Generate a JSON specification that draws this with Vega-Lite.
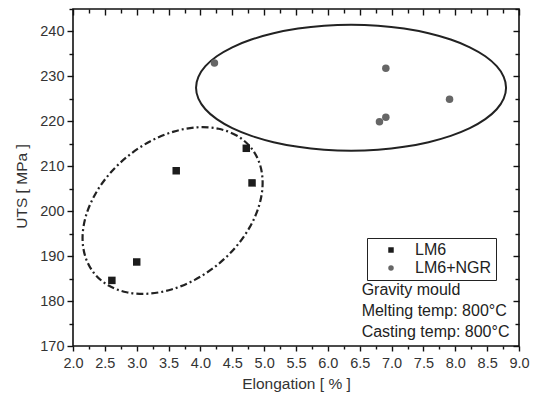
{
  "$schema": "https://vega.github.io/schema/vega-lite/v6.json",
  "width": 446,
  "height": 337,
  "autosize": {"type": "none"},
  "padding": {"left": 73, "top": 9, "right": 15, "bottom": 49},
  "background": "white",
  "config": {
    "view": {"stroke": "#111", "strokeWidth": 1.6},
    "font": "Liberation Sans",
    "axis": {"grid": false, "domain": false, "tickColor": "#111", "tickWidth": 1.4, "labelFont": "Liberation Sans", "titleFont": "Liberation Sans", "labelColor": "#333", "titleColor": "#333", "titleFontWeight": "normal", "labelFlush": false, "labelOverlap": false, "labelBound": false}
  },
  "datasets": {
    "pts": [
      {"elong": 2.61, "uts": 184.6, "series": "LM6"},
      {"elong": 3.0, "uts": 188.7, "series": "LM6"},
      {"elong": 3.62, "uts": 209.0, "series": "LM6"},
      {"elong": 4.72, "uts": 214.0, "series": "LM6"},
      {"elong": 4.81, "uts": 206.3, "series": "LM6"},
      {"elong": 4.22, "uts": 233.0, "series": "LM6+NGR"},
      {"elong": 6.91, "uts": 231.8, "series": "LM6+NGR"},
      {"elong": 7.91, "uts": 224.9, "series": "LM6+NGR"},
      {"elong": 6.91, "uts": 220.9, "series": "LM6+NGR"},
      {"elong": 6.81, "uts": 219.9, "series": "LM6+NGR"}
    ],
    "solid": [
      {"i": 0, "elong": 8.797, "uts": 227.48},
      {"i": 1, "elong": 8.76, "uts": 229.91},
      {"i": 2, "elong": 8.65, "uts": 232.27},
      {"i": 3, "elong": 8.471, "uts": 234.48},
      {"i": 4, "elong": 8.228, "uts": 236.48},
      {"i": 5, "elong": 7.928, "uts": 238.2},
      {"i": 6, "elong": 7.581, "uts": 239.6},
      {"i": 7, "elong": 7.196, "uts": 240.64},
      {"i": 8, "elong": 6.786, "uts": 241.27},
      {"i": 9, "elong": 6.364, "uts": 241.48},
      {"i": 10, "elong": 5.942, "uts": 241.27},
      {"i": 11, "elong": 5.532, "uts": 240.64},
      {"i": 12, "elong": 5.147, "uts": 239.6},
      {"i": 13, "elong": 4.8, "uts": 238.2},
      {"i": 14, "elong": 4.5, "uts": 236.48},
      {"i": 15, "elong": 4.257, "uts": 234.48},
      {"i": 16, "elong": 4.078, "uts": 232.27},
      {"i": 17, "elong": 3.968, "uts": 229.91},
      {"i": 18, "elong": 3.931, "uts": 227.48},
      {"i": 19, "elong": 3.968, "uts": 225.05},
      {"i": 20, "elong": 4.078, "uts": 222.69},
      {"i": 21, "elong": 4.257, "uts": 220.48},
      {"i": 22, "elong": 4.5, "uts": 218.48},
      {"i": 23, "elong": 4.8, "uts": 216.76},
      {"i": 24, "elong": 5.147, "uts": 215.36},
      {"i": 25, "elong": 5.532, "uts": 214.32},
      {"i": 26, "elong": 5.942, "uts": 213.69},
      {"i": 27, "elong": 6.364, "uts": 213.48},
      {"i": 28, "elong": 6.786, "uts": 213.69},
      {"i": 29, "elong": 7.196, "uts": 214.32},
      {"i": 30, "elong": 7.581, "uts": 215.36},
      {"i": 31, "elong": 7.928, "uts": 216.76},
      {"i": 32, "elong": 8.228, "uts": 218.48},
      {"i": 33, "elong": 8.471, "uts": 220.48},
      {"i": 34, "elong": 8.65, "uts": 222.69},
      {"i": 35, "elong": 8.76, "uts": 225.05}
    ],
    "dashdot": [
      {"i": 0, "elong": 4.796, "uts": 214.08},
      {"i": 1, "elong": 4.575, "uts": 216.78},
      {"i": 2, "elong": 4.285, "uts": 218.34},
      {"i": 3, "elong": 3.947, "uts": 218.66},
      {"i": 4, "elong": 3.582, "uts": 217.72},
      {"i": 5, "elong": 3.215, "uts": 215.58},
      {"i": 6, "elong": 2.873, "uts": 212.39},
      {"i": 7, "elong": 2.577, "uts": 208.37},
      {"i": 8, "elong": 2.349, "uts": 203.79},
      {"i": 9, "elong": 2.203, "uts": 198.96},
      {"i": 10, "elong": 2.15, "uts": 194.21},
      {"i": 11, "elong": 2.194, "uts": 189.86},
      {"i": 12, "elong": 2.33, "uts": 186.22},
      {"i": 13, "elong": 2.551, "uts": 183.52},
      {"i": 14, "elong": 2.841, "uts": 181.96},
      {"i": 15, "elong": 3.179, "uts": 181.64},
      {"i": 16, "elong": 3.544, "uts": 182.58},
      {"i": 17, "elong": 3.911, "uts": 184.72},
      {"i": 18, "elong": 4.253, "uts": 187.91},
      {"i": 19, "elong": 4.549, "uts": 191.93},
      {"i": 20, "elong": 4.777, "uts": 196.51},
      {"i": 21, "elong": 4.923, "uts": 201.34},
      {"i": 22, "elong": 4.976, "uts": 206.09},
      {"i": 23, "elong": 4.933, "uts": 210.44}
    ]
  },
  "resolve": {"axis": {"x": "independent", "y": "independent"}},
  "layer": [
    {
      "data": {"name": "solid"},
      "mark": {"type": "line", "interpolate": "cardinal-closed", "color": "#222", "strokeWidth": 2},
      "encoding": {
        "x": {"field": "elong", "type": "quantitative", "scale": {"domain": [2, 9], "nice": false, "zero": false},
          "axis": {"orient": "top", "values": [2, 2.5, 3, 3.5, 4, 4.5, 5, 5.5, 6, 6.5, 7, 7.5, 8, 8.5, 9], "labels": false, "title": null, "tickSize": -6}},
        "y": {"field": "uts", "type": "quantitative", "scale": {"domain": [170, 245], "nice": false, "zero": false},
          "axis": {"orient": "right", "values": [170, 180, 190, 200, 210, 220, 230, 240], "labels": false, "title": null, "tickSize": -6}},
        "order": {"field": "i", "type": "quantitative"}
      }
    },
    {
      "data": {"name": "dashdot"},
      "mark": {"type": "line", "interpolate": "cardinal-closed", "color": "#222", "strokeWidth": 2.2, "strokeDash": [7, 3, 2, 3]},
      "encoding": {
        "x": {"field": "elong", "type": "quantitative",
          "axis": {"orient": "top", "values": [2.25, 2.75, 3.25, 3.75, 4.25, 4.75, 5.25, 5.75, 6.25, 6.75, 7.25, 7.75, 8.25, 8.75], "labels": false, "title": null, "tickSize": -4}},
        "y": {"field": "uts", "type": "quantitative",
          "axis": {"orient": "right", "values": [175, 185, 195, 205, 215, 225, 235, 245], "labels": false, "title": null, "tickSize": -4}},
        "order": {"field": "i", "type": "quantitative"}
      }
    },
    {
      "data": {"name": "pts"},
      "mark": {"type": "point", "filled": true, "opacity": 1, "size": 56, "strokeWidth": 0},
      "encoding": {
        "x": {"field": "elong", "type": "quantitative",
          "axis": {"orient": "bottom", "values": [2, 2.5, 3, 3.5, 4, 4.5, 5, 5.5, 6, 6.5, 7, 7.5, 8, 8.5, 9], "format": ".1f", "labelFontSize": 14.5, "labelPadding": 5, "tickSize": 5, "title": "Elongation [ % ]", "titleFontSize": 15.5, "titlePadding": 7}},
        "y": {"field": "uts", "type": "quantitative",
          "axis": {"orient": "left", "values": [170, 180, 190, 200, 210, 220, 230, 240], "labelFontSize": 14.5, "labelPadding": 3, "tickSize": 6, "title": "UTS [ MPa ]", "titleFontSize": 15.5, "titlePadding": 10, "titleY": 177}},
        "shape": {"field": "series", "type": "nominal", "scale": {"domain": ["LM6", "LM6+NGR"], "range": ["square", "circle"]},
          "legend": {"title": null, "orient": "none", "legendX": 294, "legendY": 229, "strokeColor": "#222", "padding": 4, "labelFont": "Liberation Sans", "labelFontSize": 16, "labelColor": "#222", "symbolSize": 30, "symbolOffset": 12, "labelOffset": 16, "rowPadding": 2, "symbolStrokeWidth": 0}},
        "color": {"field": "series", "type": "nominal", "scale": {"domain": ["LM6", "LM6+NGR"], "range": ["#1c1c1c", "#666666"]},
          "legend": {"title": null, "orient": "none", "legendX": 294, "legendY": 229, "strokeColor": "#222", "padding": 4, "labelFont": "Liberation Sans", "labelFontSize": 16, "labelColor": "#222", "symbolSize": 30, "symbolOffset": 12, "labelOffset": 16, "rowPadding": 2, "symbolStrokeWidth": 0}}
      }
    },
    {
      "data": {"name": "pts"},
      "mark": {"type": "point", "opacity": 0},
      "encoding": {
        "x": {"field": "elong", "type": "quantitative",
          "axis": {"orient": "bottom", "values": [2.25, 2.75, 3.25, 3.75, 4.25, 4.75, 5.25, 5.75, 6.25, 6.75, 7.25, 7.75, 8.25, 8.75], "labels": false, "title": null, "tickSize": 3}},
        "y": {"field": "uts", "type": "quantitative",
          "axis": {"orient": "left", "values": [175, 185, 195, 205, 215, 225, 235, 245], "labels": false, "title": null, "tickSize": 4}}
      }
    },
    {
      "data": {"values": [{}]},
      "mark": {"type": "text", "align": "left", "baseline": "alphabetic", "font": "Liberation Sans", "fontSize": 16, "lineHeight": 21, "color": "#222"},
      "encoding": {
        "x": {"datum": 6.53, "type": "quantitative", "axis": null},
        "y": {"datum": 181.3, "type": "quantitative", "axis": null},
        "text": {"value": ["Gravity mould", "Melting temp: 800°C", "Casting temp: 800°C"]}
      }
    }
  ]
}
